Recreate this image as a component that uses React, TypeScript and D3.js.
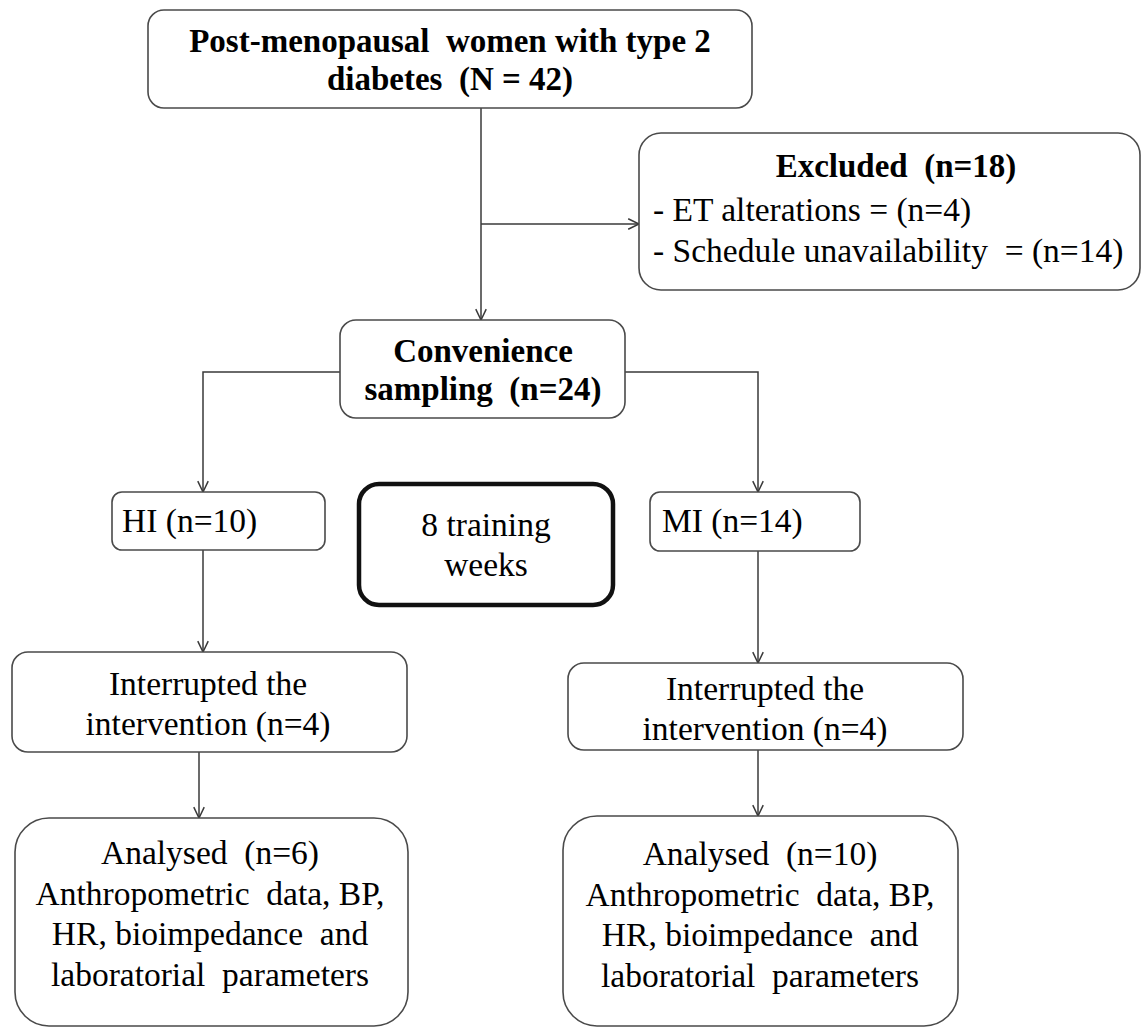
import * as d3 from "d3";

// labels of the flowchart
const topLines = ["Post-menopausal  women with type 2", "diabetes  (N = 42)"];
const excludedTitle = ["Excluded  (n=18)"];
const excludedItems = ["- ET alterations = (n=4)", "- Schedule unavailability  = (n=14)"];
const samplingLines = ["Convenience", "sampling  (n=24)"];
const groupLabels = ["HI (n=10)", "MI (n=14)"];
const trainingLines = ["8 training", "weeks"];
const interruptedLines = [
    ["Interrupted the", "intervention (n=4)"],
    ["Interrupted the", "intervention (n=4)"],
];
const analysedLines = [
    ["Analysed  (n=6)", "Anthropometric  data, BP,", "HR, bioimpedance  and", "laboratorial  parameters"],
    ["Analysed  (n=10)", "Anthropometric  data, BP,", "HR, bioimpedance  and", "laboratorial  parameters"],
];

type Box = { x: number; y: number; w: number; h: number; r: number; sw?: number; stroke?: string };

const layout: Record<string, Box> = {
    top: { x: 148, y: 10, w: 604, h: 98, r: 16 },
    excluded: { x: 639, y: 133, w: 501, h: 157, r: 22 },
    sampling: { x: 340, y: 320, w: 285, h: 98, r: 16 },
    hi: { x: 112, y: 492, w: 213, h: 58, r: 10 },
    training: { x: 359, y: 484, w: 254, h: 121, r: 20, sw: 4.5, stroke: "#111" },
    mi: { x: 650, y: 492, w: 210, h: 59, r: 10 },
    int0: { x: 12, y: 652, w: 395, h: 100, r: 16 },
    int1: { x: 568, y: 663, w: 395, h: 87, r: 16 },
    an0: { x: 15, y: 818, w: 393, h: 208, r: 34 },
    an1: { x: 563, y: 816, w: 395, h: 210, r: 34 },
};

const font = "Liberation Serif";
const lineColor = "#3a3a3a";

const line = d3.line<[number, number]>();

const Arrow = ({ pts }: { pts: [number, number][] }) => {
    const [x1, y1] = pts[pts.length - 2];
    const [x2, y2] = pts[pts.length - 1];
    const a = Math.atan2(y2 - y1, x2 - x1);
    const len = 12;
    const spread = 0.45;
    const head: [number, number][] = [
        [x2 - len * Math.cos(a - spread), y2 - len * Math.sin(a - spread)],
        [x2, y2],
        [x2 - len * Math.cos(a + spread), y2 - len * Math.sin(a + spread)],
    ];
    return (
        <g fill="none" stroke={lineColor} strokeWidth={1.5}>
            <path d={line(pts) || ""} />
            <path d={line(head) || ""} />
        </g>
    );
};

const BoxRect = ({ b }: { b: Box }) => (
    <rect
        x={b.x}
        y={b.y}
        width={b.w}
        height={b.h}
        rx={b.r}
        ry={b.r}
        fill="#fff"
        stroke={b.stroke || "#4a4a4a"}
        strokeWidth={b.sw || 1.6}
    />
);

const Lines = ({
    lines,
    x,
    y0,
    dy,
    bold,
    anchor = "middle",
}: {
    lines: string[];
    x: number;
    y0: number;
    dy: number;
    bold?: boolean;
    anchor?: string;
}) => (
    <>
        {lines.map((t, i) => (
            <text
                key={i}
                x={x}
                y={y0 + i * dy}
                textAnchor={anchor}
                fill="#000"
                fontFamily={font}
                fontSize={bold ? 33 : 33.5}
                fontWeight={bold ? "bold" : "normal"}
                style={{ whiteSpace: "pre" }}
            >
                {t}
            </text>
        ))}
    </>
);

export default function App() {
    const L = layout;
    return (
        <svg
            width={1147}
            height={1028}
            style={{ position: "absolute", left: 0, top: 0, background: "#fff" }}
        >
            <rect width={1147} height={1028} fill="#fff" />
            {/* connectors */}
            <Arrow pts={[[481, L.top.y + L.top.h], [481, L.sampling.y]]} />
            <Arrow pts={[[481, 224], [L.excluded.x, 224]]} />
            <Arrow pts={[[L.sampling.x, 372], [203, 372], [203, L.hi.y]]} />
            <Arrow pts={[[L.sampling.x + L.sampling.w, 372], [758, 372], [758, L.mi.y]]} />
            <Arrow pts={[[203, L.hi.y + L.hi.h], [203, L.int0.y]]} />
            <Arrow pts={[[758, L.mi.y + L.mi.h], [758, L.int1.y]]} />
            <Arrow pts={[[199, L.int0.y + L.int0.h], [199, L.an0.y]]} />
            <Arrow pts={[[758, L.int1.y + L.int1.h], [758, L.an1.y]]} />

            {Object.values(L).map((b, i) => (
                <BoxRect key={i} b={b} />
            ))}

            <Lines lines={topLines} x={450} y0={52} dy={38} bold />
            <Lines lines={excludedTitle} x={896} y0={177} dy={40} bold />
            <Lines lines={excludedItems} x={653} y0={221} dy={41} anchor="start" />
            <Lines lines={samplingLines} x={483} y0={362} dy={38} bold />
            <Lines lines={[groupLabels[0]]} x={122} y0={532} dy={40} anchor="start" />
            <Lines lines={[groupLabels[1]]} x={662} y0={532} dy={40} anchor="start" />
            <Lines lines={trainingLines} x={486} y0={536} dy={40} />
            <Lines lines={interruptedLines[0]} x={208} y0={695} dy={40} />
            <Lines lines={interruptedLines[1]} x={765} y0={700} dy={40} />
            <Lines lines={analysedLines[0]} x={210} y0={864} dy={40.5} />
            <Lines lines={analysedLines[1]} x={760} y0={865} dy={40.5} />
        </svg>
    );
}
